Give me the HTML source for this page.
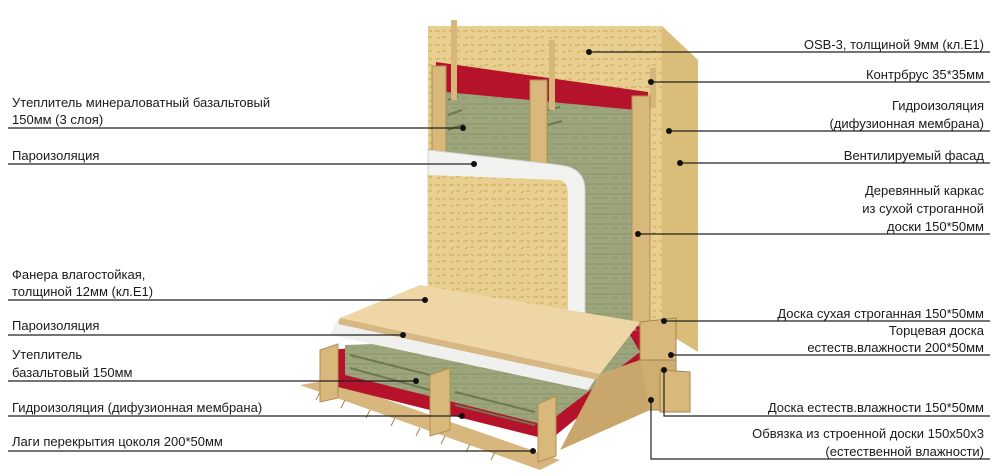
<!DOCTYPE html>
<html><head><meta charset="utf-8"><style>
html,body{margin:0;padding:0;background:#fff;}
svg{display:block}
text{font-family:"Liberation Sans","DejaVu Sans",sans-serif;font-size:13px;fill:#1a1a1a;}
</style></head><body>
<svg width="1000" height="476" viewBox="0 0 1000 476" xmlns="http://www.w3.org/2000/svg">
<defs>
<pattern id="osb" width="14" height="14" patternUnits="userSpaceOnUse">
<rect width="14" height="14" fill="#e8cf8f"/>
<path d="M1 3h5M8 9h4M3 11l3-2M9 2l3 2" stroke="#c9a55a" stroke-width="1"/>
</pattern>
<pattern id="wool" width="10" height="10" patternUnits="userSpaceOnUse">
<rect width="10" height="10" fill="#9ca57c"/>
<path d="M0 4h10M2 8h6" stroke="#8a9368" stroke-width="1"/>
</pattern>
</defs>
<!-- back OSB -->
<polygon points="428,26 662,26 662,330 428,330" fill="url(#osb)"/>
<polygon points="662,26 698,60 698,352 662,330" fill="#d9bd78"/>
<!-- red membrane band -->
<polygon points="436,62 648,92 648,330 436,330" fill="#b5132c"/>
<!-- insulation -->
<polygon points="445,92 636,110 636,330 445,330" fill="url(#wool)"/>
<path d="M448,100l10-4M448,115l14-5M448,130l16-6M548,110l12-3M548,125l14-4" stroke="#6f7750" stroke-width="2"/>
<!-- counter battens -->
<rect x="451" y="20" width="6" height="80" fill="#d7b67a"/>
<rect x="549" y="40" width="6" height="70" fill="#d7b67a"/>
<rect x="650" y="68" width="6" height="40" fill="#d7b67a"/>
<!-- studs -->
<rect x="432" y="66" width="14" height="230" fill="#d9b87c" stroke="#b38e52"/>
<rect x="530" y="80" width="17" height="230" fill="#d9b87c" stroke="#b38e52"/>
<rect x="632" y="96" width="18" height="230" fill="#d9b87c" stroke="#b38e52"/>
<!-- vapour barrier + interior OSB -->
<path d="M428,150 L560,165 Q585,168 585,190 L585,320 L428,300 Z" fill="#f2f2f0" stroke="#d0d0d0"/>
<path d="M428,175 L560,180 Q568,182 568,195 L568,320 L428,300 Z" fill="url(#osb)"/>
<!-- floor decking bottom -->
<polygon points="300,385 330,380 560,460 540,470" fill="#d8b77e"/>
<path d="M320,392l-4,8M345,400l-4,8M370,410l-4,8M395,418l-4,8M420,428l-4,8M445,436l-4,8M470,444l-4,8M495,452l-4,8" stroke="#a88450"/>
<!-- floor insulation -->
<polygon points="325,350 640,330 660,350 550,440 330,385" fill="#b5132c"/>
<polygon points="345,345 630,335 640,352 545,425 345,375" fill="url(#wool)"/>
<path d="M350,355l80,20M350,368l80,22M455,392l80,20M455,405l80,20" stroke="#6f7750" stroke-width="2"/>
<!-- joists -->
<polygon points="320,350 338,344 338,398 320,402" fill="#d9b87c" stroke="#b38e52"/>
<polygon points="430,375 450,368 450,430 430,436" fill="#d9b87c" stroke="#b38e52"/>
<polygon points="538,404 556,396 556,456 538,462" fill="#d9b87c" stroke="#b38e52"/>
<!-- white strip -->
<polygon points="338,318 600,372 588,390 330,335" fill="#f0f0ee"/>
<!-- plywood -->
<polygon points="420,285 640,322 600,374 340,318" fill="#efd6a6"/>
<polygon points="340,318 600,374 598,380 338,324" fill="#d7b783"/>
<!-- right end blocks -->
<polygon points="640,322 676,318 676,360 640,360" fill="#d9b87c" stroke="#a88450"/>
<polygon points="640,360 676,360 676,410 640,410" fill="#cfae72" stroke="#a88450"/>
<polygon points="660,370 690,372 690,412 660,412" fill="#d9b87c" stroke="#a88450"/>
<polygon points="600,374 640,360 650,410 560,450" fill="#c9a66b"/>
<!-- leader lines right -->
<g stroke="#222" stroke-width="1.2" fill="none">
<path d="M589,52H990"/><path d="M651,82H990"/><path d="M669,131H990"/><path d="M680,163H990"/>
<path d="M638,234H990"/><path d="M664,321H990"/><path d="M671,355H990"/>
<path d="M664,370V416H990"/><path d="M651,400V459H990"/>
<path d="M8,128H463"/><path d="M8,164H474"/><path d="M8,300H425"/><path d="M8,335H403"/>
<path d="M8,381H416"/><path d="M8,416H462"/><path d="M8,451H533"/>
</g>
<g fill="#111">
<circle cx="589" cy="52" r="3"/><circle cx="651" cy="82" r="3"/><circle cx="669" cy="131" r="3"/>
<circle cx="680" cy="163" r="3"/><circle cx="638" cy="234" r="3"/><circle cx="664" cy="321" r="3"/>
<circle cx="671" cy="355" r="3"/><circle cx="664" cy="370" r="3"/><circle cx="651" cy="400" r="3"/>
<circle cx="463" cy="128" r="3"/><circle cx="474" cy="164" r="3"/><circle cx="425" cy="300" r="3"/>
<circle cx="403" cy="335" r="3"/><circle cx="416" cy="381" r="3"/><circle cx="462" cy="416" r="3"/>
<circle cx="533" cy="451" r="3"/>
</g>
<!-- right labels -->
<g text-anchor="end">
<text x="984" y="49">OSB-3, толщиной 9мм (кл.E1)</text>
<text x="984" y="79">Контрбрус 35*35мм</text>
<text x="984" y="110">Гидроизоляция</text>
<text x="984" y="128">(дифузионная мембрана)</text>
<text x="984" y="160">Вентилируемый фасад</text>
<text x="984" y="195">Деревянный каркас</text>
<text x="984" y="213">из сухой строганной</text>
<text x="984" y="231">доски 150*50мм</text>
<text x="984" y="318">Доска сухая строганная 150*50мм</text>
<text x="984" y="335">Торцевая доска</text>
<text x="984" y="352">естеств.влажности 200*50мм</text>
<text x="984" y="412">Доска естеств.влажности 150*50мм</text>
<text x="984" y="438">Обвязка из строенной доски 150х50х3</text>
<text x="984" y="456">(естественной влажности)</text>
</g>
<!-- left labels -->
<text x="12" y="107">Утеплитель минераловатный базальтовый</text>
<text x="12" y="124">150мм (3 слоя)</text>
<text x="12" y="160">Пароизоляция</text>
<text x="12" y="279">Фанера влагостойкая,</text>
<text x="12" y="296">толщиной 12мм (кл.E1)</text>
<text x="12" y="330">Пароизоляция</text>
<text x="12" y="359">Утеплитель</text>
<text x="12" y="377">базальтовый 150мм</text>
<text x="12" y="412">Гидроизоляция (дифузионная мембрана)</text>
<text x="12" y="446">Лаги перекрытия цоколя 200*50мм</text>
</svg>
</body></html>
